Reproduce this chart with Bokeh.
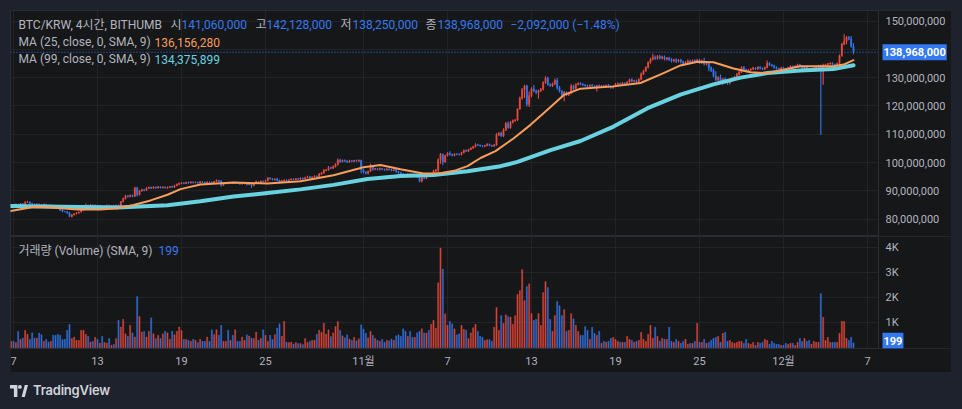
from bokeh.plotting import figure
from bokeh.models import Range1d, FixedTicker, Label, Div, ColumnDataSource, BoxAnnotation
from bokeh.layouts import column
from bokeh.embed import file_html
from bokeh.resources import INLINE

# ---------------- data (BTC/KRW, 4h candles, million KRW) ----------------
first_open = 84.8
close = [
    85.0,
    84.8, 85.2, 85.0, 85.4, 85.1, 85.9,
    86.0, 85.5, 85.3, 85.0, 85.3, 85.1,
    84.9, 85.2, 85.0, 84.8, 84.9, 84.6,
    84.3, 83.8, 83.2, 82.7, 82.6, 82.2,
    80.9, 81.5, 81.9, 82.2, 82.5, 83.2,
    84.4, 84.9, 84.6, 85.0, 84.7, 84.9,
    84.6, 84.8, 84.5, 84.7, 84.9, 84.6,
    84.8, 84.5, 84.9, 84.7, 86.2, 87.2,
    88.2, 88.0, 88.4, 88.1, 91.0, 88.6,
    90.0, 90.4, 90.2, 90.9, 91.2, 90.9,
    91.3, 91.0, 91.4, 91.1, 91.3, 91.0,
    91.2, 91.5, 91.3, 91.8, 92.3, 92.6,
    92.8, 92.6, 93.0, 92.8, 93.1, 92.9,
    93.0, 92.8, 93.2, 93.0, 92.8, 93.1,
    93.0, 92.8, 93.2, 93.7, 93.4, 92.0,
    92.5, 92.8, 92.6, 92.9, 92.7, 93.0,
    92.8, 92.4, 92.6, 92.9, 92.2, 92.5,
    91.9, 92.6, 93.2, 93.0, 93.4, 93.3,
    93.6, 94.5, 94.2, 93.9, 94.1, 93.7,
    93.1, 93.5, 93.8, 93.6, 93.9, 94.1,
    94.0, 94.3, 94.1, 94.5, 94.3, 94.7,
    95.0, 94.6, 94.9, 95.2, 95.0, 95.9,
    96.3, 97.2, 97.4, 98.2, 98.0, 98.5,
    99.3, 100.9, 100.3, 100.8, 100.5, 100.2,
    100.6, 100.4, 100.7, 100.5, 100.8, 97.4,
    96.6, 96.2, 96.9, 98.5, 97.6, 97.8,
    97.5, 97.9, 97.6, 97.4, 97.7, 97.5,
    97.2, 97.4, 96.8, 96.4, 96.0, 95.7,
    95.2, 95.9, 95.6, 95.3, 95.5, 94.9,
    93.4, 94.6, 94.4, 95.7, 95.5, 96.0,
    96.9, 97.3, 101.0, 102.9, 100.2, 102.4,
    103.3, 102.8, 102.5, 103.0, 102.9, 102.8,
    103.5, 104.3, 104.0, 104.6, 105.1, 105.6,
    106.3, 106.1, 105.9, 105.7, 106.0, 106.4,
    106.0, 105.8, 106.2, 109.8, 110.4, 109.4,
    111.5, 113.8, 112.3, 114.2, 114.8, 115.0,
    118.9, 122.8, 125.8, 127.1, 120.5, 123.6,
    126.0, 125.3, 124.7, 125.4, 125.9, 128.3,
    129.8, 127.6, 127.2, 127.8, 129.0, 126.5,
    125.2, 123.9, 124.8, 124.0, 124.6, 127.0,
    126.1, 127.6, 128.0, 127.7, 127.4, 127.2,
    126.9, 127.3, 127.0, 126.6, 127.2, 126.8,
    127.1, 126.8, 127.3, 126.9, 126.5, 127.0,
    127.6, 127.9, 127.5, 128.1, 127.8, 128.4,
    129.3, 128.7, 128.9, 128.5, 129.4, 131.3,
    132.4, 133.6, 135.4, 136.5, 137.2, 136.8,
    137.5, 136.9, 137.3, 136.5, 136.9, 136.4,
    135.9, 136.3, 135.8, 136.2, 135.6, 135.0,
    135.4, 135.9, 135.5, 136.0, 135.7, 136.2,
    135.3, 135.9, 134.8, 135.3, 133.4, 132.6,
    130.6, 129.3, 130.0, 128.8, 129.5, 128.4,
    128.1, 128.9, 129.7, 130.2, 131.1, 132.0,
    133.6, 132.8, 132.4, 132.7, 133.0, 133.4,
    133.1, 133.7, 133.3, 133.0, 133.6, 135.1,
    134.5, 134.2, 133.6, 133.2, 132.9, 133.5,
    133.2, 132.9, 133.4, 134.0, 133.7, 134.1,
    134.5, 134.1, 133.4, 133.8, 133.0, 132.7,
    133.0, 133.4, 133.7, 134.2, 133.6, 134.4,
    134.6, 134.9, 135.1, 134.6, 134.3, 135.0,
    137.8, 141.8, 142.8, 144.2, 143.6, 141.06,
    138.968,
]
upper_wick = [
    0.2,
    0.2, 0.3, 0.2, 0.3, 0.2, 0.4,
    0.5, 0.2, 0.3, 0.2, 0.3, 0.2,
    0.2, 0.3, 0.2, 0.2, 0.3, 0.2,
    0.2, 0.3, 0.2, 0.3, 0.2, 0.3,
    0.4, 0.3, 0.2, 0.3, 0.2, 0.3,
    0.3, 0.6, 0.2, 0.3, 0.2, 0.3,
    0.2, 0.3, 0.2, 0.2, 0.3, 0.2,
    0.2, 0.3, 0.2, 0.3, 0.2, 0.4,
    0.4, 0.3, 0.3, 0.2, 0.4, 0.4,
    0.3, 0.3, 0.2, 0.4, 0.3, 0.3,
    0.3, 0.2, 0.3, 0.2, 0.3, 0.2,
    0.3, 0.2, 0.3, 0.3, 0.3, 0.3,
    0.3, 0.3, 0.2, 0.3, 0.3, 0.2,
    0.3, 0.2, 0.3, 0.2, 0.2, 0.3,
    0.2, 0.3, 0.3, 0.3, 0.2, 0.4,
    0.3, 0.2, 0.3, 0.2, 0.3, 0.2,
    0.2, 0.3, 0.2, 0.3, 0.2, 0.3,
    0.3, 0.3, 0.4, 0.2, 0.3, 0.2,
    0.3, 0.4, 0.3, 0.2, 0.3, 0.5,
    0.2, 0.3, 0.2, 0.3, 0.2, 0.3,
    0.3, 0.2, 0.3, 0.3, 0.2, 0.3,
    0.3, 0.3, 0.2, 0.3, 0.2, 0.4,
    0.3, 0.5, 0.3, 0.6, 0.3, 0.5,
    0.4, 0.5, 0.4, 0.3, 0.3, 0.3,
    0.4, 0.3, 0.3, 0.3, 0.3, 0.2,
    0.4, 0.3, 0.3, 1.1, 0.5, 0.3,
    0.3, 0.3, 0.2, 0.3, 0.3, 0.2,
    0.3, 0.3, 0.4, 0.3, 0.3, 0.3,
    0.3, 0.3, 0.3, 0.2, 0.3, 0.3,
    0.3, 0.3, 0.3, 0.4, 0.3, 0.4,
    0.5, 0.4, 0.4, 0.5, 0.3, 0.3,
    0.3, 0.7, 0.4, 0.3, 0.3, 0.3,
    0.3, 0.3, 0.3, 0.3, 0.3, 0.3,
    0.5, 0.3, 0.3, 0.3, 0.3, 0.4,
    0.3, 0.3, 0.3, 0.5, 0.3, 0.5,
    0.6, 0.5, 0.7, 0.5, 0.4, 0.4,
    0.3, 0.5, 0.5, 0.4, 0.4, 1.5,
    0.6, 1.4, 0.5, 0.3, 0.4, 0.4,
    0.7, 0.5, 0.4, 0.5, 0.6, 0.9,
    0.5, 0.4, 0.5, 0.4, 0.4, 0.7,
    0.5, 0.4, 0.3, 0.4, 0.3, 0.3,
    0.4, 0.3, 0.4, 0.3, 0.3, 0.4,
    0.3, 0.4, 0.3, 0.4, 0.3, 0.3,
    0.5, 0.4, 0.3, 0.4, 0.3, 0.4,
    0.3, 0.5, 0.3, 0.4, 0.4, 0.5,
    0.4, 0.4, 0.4, 0.5, 1.2, 0.6,
    0.5, 0.6, 0.4, 0.5, 0.4, 0.5,
    0.5, 0.4, 0.5, 0.4, 0.5, 0.4,
    0.4, 0.5, 0.4, 0.4, 0.5, 0.5,
    0.5, 0.5, 1.1, 0.4, 0.5, 0.6,
    0.6, 1.6, 0.5, 1.1, 0.4, 0.6,
    0.5, 0.4, 0.4, 0.4, 0.5, 0.3,
    0.4, 0.5, 0.4, 0.3, 0.3, 0.4,
    0.3, 0.3, 0.4, 0.3, 0.3, 0.9,
    0.4, 0.3, 0.3, 0.3, 0.3, 0.3,
    0.3, 0.3, 0.4, 0.4, 0.3, 0.3,
    0.4, 0.3, 0.3, 0.3, 0.4, 0.3,
    0.3, 0.3, 0.3, 0.3, 0.4, 0.5,
    0.3, 0.3, 0.3, 0.3, 0.3, 0.3,
    0.4, 0.5, 2.5, 0.5, 0.5, 1.1,
    1.068,
]
lower_wick = [
    0.3,
    0.3, 0.2, 0.3, 0.2, 0.3, 0.2,
    0.2, 0.3, 0.2, 0.3, 0.2, 0.3,
    0.3, 0.2, 0.3, 0.2, 0.2, 0.3,
    0.3, 0.2, 0.3, 0.3, 0.2, 0.3,
    0.2, 0.3, 0.2, 0.3, 0.3, 0.2,
    0.3, 0.2, 0.3, 0.2, 0.3, 0.2,
    0.3, 0.2, 0.3, 0.3, 0.2, 0.3,
    0.2, 0.3, 0.2, 0.3, 0.3, 0.3,
    0.3, 0.4, 0.3, 0.4, 0.3, 0.6,
    0.3, 0.3, 0.4, 0.3, 0.3, 0.3,
    0.3, 0.3, 0.2, 0.3, 0.3, 0.2,
    0.3, 0.2, 0.3, 0.3, 0.2, 0.3,
    0.3, 0.3, 0.2, 0.3, 0.2, 0.3,
    0.2, 0.3, 0.3, 0.2, 0.3, 0.2,
    0.3, 0.2, 0.3, 0.2, 0.3, 0.6,
    0.3, 0.2, 0.3, 0.2, 0.3, 0.3,
    0.3, 0.3, 0.2, 0.3, 0.3, 0.2,
    0.9, 0.3, 0.3, 0.3, 0.2, 0.3,
    0.3, 0.3, 0.2, 0.3, 0.3, 0.3,
    0.5, 0.3, 0.2, 0.3, 0.3, 0.2,
    0.3, 0.2, 0.3, 0.3, 0.3, 0.2,
    0.3, 0.4, 0.3, 0.2, 0.3, 0.3,
    0.3, 0.3, 0.3, 0.3, 0.4, 0.3,
    0.3, 0.4, 0.5, 0.3, 0.4, 0.4,
    0.3, 0.3, 0.3, 0.3, 0.3, 1.3,
    0.5, 0.4, 0.4, 0.3, 0.5, 0.3,
    0.3, 0.3, 0.3, 0.3, 0.3, 0.3,
    0.3, 0.3, 0.4, 0.4, 0.4, 0.3,
    0.4, 0.3, 0.3, 0.3, 0.3, 0.4,
    0.4, 0.5, 0.3, 0.3, 0.3, 0.3,
    0.3, 0.3, 0.8, 1.4, 1.2, 0.3,
    0.3, 0.3, 0.3, 0.3, 0.3, 0.3,
    0.3, 0.3, 0.3, 0.3, 0.3, 0.3,
    0.3, 0.3, 0.3, 0.3, 0.3, 0.3,
    0.3, 0.3, 0.3, 0.3, 0.4, 0.4,
    0.4, 0.4, 0.4, 0.4, 0.4, 0.4,
    0.3, 0.3, 0.6, 3.0, 0.7, 0.9,
    0.5, 0.5, 0.6, 2.2, 0.5, 0.5,
    0.5, 0.5, 0.5, 0.5, 0.5, 0.8,
    0.5, 0.5, 2.3, 0.5, 0.5, 0.5,
    0.5, 0.4, 0.4, 0.4, 0.4, 0.4,
    0.4, 0.4, 0.4, 0.4, 1.5, 0.4,
    0.4, 0.4, 0.4, 0.4, 0.4, 0.4,
    0.4, 0.4, 0.4, 0.4, 0.4, 0.4,
    0.4, 0.4, 0.4, 0.4, 0.4, 0.4,
    0.4, 0.4, 0.4, 0.5, 0.5, 0.6,
    0.5, 0.5, 0.5, 0.5, 0.5, 0.5,
    0.6, 0.5, 0.6, 0.5, 0.6, 0.6,
    0.5, 0.5, 0.5, 0.5, 0.5, 0.5,
    0.5, 0.5, 0.5, 0.5, 1.2, 0.6,
    0.6, 0.6, 0.6, 0.7, 1.3, 0.6,
    0.6, 0.5, 0.4, 0.4, 0.4, 0.4,
    0.4, 0.4, 0.6, 0.4, 0.4, 0.4,
    0.4, 0.4, 0.4, 0.4, 0.3, 0.4,
    0.4, 0.4, 0.5, 0.4, 0.4, 0.4,
    0.4, 0.4, 0.4, 0.4, 0.4, 0.4,
    0.4, 0.4, 0.6, 0.4, 0.8, 0.4,
    0.4, 0.4, 0.4, 0.4, 23.8, 6.1,
    0.4, 0.4, 0.4, 0.4, 0.4, 0.4,
    0.4, 0.4, 0.4, 1.0, 0.4, 0.5,
    0.718,
]
volume = [
    260,
    260, 210, 660, 340, 390, 700,
    540, 340, 600, 390, 390, 590,
    520, 260, 340, 230, 260, 500,
    500, 540, 500, 330, 340, 700,
    940, 370, 430, 300, 300, 700,
    700, 540, 460, 230, 260, 420,
    340, 190, 460, 210, 190, 370,
    100, 140, 370, 1100, 830, 1140,
    560, 460, 900, 600, 430, 2050,
    1250, 630, 660, 430, 660, 1200,
    560, 370, 500, 370, 560, 660,
    600, 340, 660, 520, 660, 830,
    700, 340, 340, 300, 260, 340,
    300, 210, 340, 260, 260, 430,
    260, 720, 530, 720, 500, 900,
    260, 260, 700, 300, 500, 720,
    260, 260, 430, 300, 520, 470,
    390, 370, 630, 300, 370, 720,
    500, 260, 500, 330, 520, 790,
    960, 470, 1060, 230, 210, 230,
    150, 210, 170, 170, 130, 370,
    210, 260, 300, 300, 540, 700,
    620, 980, 550, 720, 450, 600,
    850, 1050, 700, 480, 400, 520,
    350, 300, 420, 280, 360, 920,
    750, 580, 400, 660, 500, 380,
    300, 260, 340, 220, 300, 280,
    350, 300, 480, 520, 460, 760,
    660, 460, 660, 420, 420, 600,
    660, 760, 600, 590, 700, 940,
    1100, 790, 2600, 3990, 3150, 1360,
    900, 1060, 960, 760, 520, 560,
    900, 740, 700, 370, 600, 800,
    940, 660, 460, 420, 290, 330,
    330, 260, 820, 1610, 700, 1290,
    980, 1320, 1250, 1230, 940, 1290,
    2130, 2290, 3130, 1890, 2450, 2560,
    1370, 1100, 1140, 1370, 900, 2210,
    2650, 2410, 1140, 660, 1290, 1850,
    1690, 1290, 1530, 660, 700, 1370,
    1160, 900, 660, 500, 500, 850,
    700, 340, 820, 580, 500, 660,
    180, 260, 230, 260, 380, 420,
    340, 260, 220, 220, 220, 460,
    340, 300, 220, 260, 300, 620,
    340, 260, 540, 900, 380, 820,
    460, 260, 380, 340, 340, 820,
    260, 220, 340, 260, 180, 260,
    340, 140, 180, 180, 260, 980,
    220, 220, 340, 180, 220, 300,
    380, 420, 460, 220, 580, 620,
    260, 300, 220, 180, 220, 260,
    260, 180, 340, 180, 140, 220,
    100, 220, 180, 220, 340, 300,
    140, 260, 180, 140, 140, 100,
    100, 180, 140, 180, 180, 100,
    220, 380, 260, 380, 260, 300,
    140, 260, 220, 220, 2170, 1220,
    300, 420, 220, 220, 220, 220,
    580, 1060, 1060, 380, 300, 420,
    199,
]
# moving averages (day since Oct 7, value in million KRW)
ma25_day = [-0.21, 1.43, 2.64, 4.57, 6.21, 7.43, 8.57, 9.79, 11.0, 11.93, 13.36, 15.71,
            18.14, 20.5, 22.86, 25.0, 26.21, 27.64, 29.29, 30.5, 31.57, 32.43, 33.36,
            34.43, 35.71, 36.93, 38.14, 39.29, 40.5, 42.86, 44.79, 46.43, 47.64, 48.86,
            50.0, 51.43, 52.64, 53.86, 55.0, 56.21, 58.57, 59.29, 60.0]
ma25 = [82.9, 84.3, 84.1, 83.4, 83.4, 83.8, 85.0, 86.6, 88.6, 90.6, 92.2, 92.9,
        92.6, 93.4, 95.5, 98.3, 99.1, 97.6, 96.1, 96.2, 97.2, 98.7, 101.6,
        104.0, 108.5, 113.3, 118.6, 123.8, 126.1, 126.9, 128.1, 131.6, 134.3, 135.6,
        135.4, 133.2, 131.9, 131.6, 132.8, 134.0, 134.0, 134.6, 136.15628]
ma99_day = [-0.21, 3.36, 7.43, 11.0, 13.36, 15.71, 18.14, 20.5, 22.86, 25.29, 27.64,
            30.0, 32.43, 34.79, 36.0, 38.36, 40.5, 42.86, 45.29, 47.64, 49.07, 50.0,
            51.93, 53.86, 56.21, 58.57, 60.0]
ma99 = [84.6, 84.4, 84.1, 84.9, 86.3, 88.0, 89.2, 90.5, 92.1, 94.2, 95.2,
        95.6, 96.9, 98.7, 100.2, 104.4, 107.6, 112.7, 119.2, 124.0, 126.2, 127.6,
        130.0, 131.6, 132.5, 133.0, 134.375899]

tick_days = [0, 6, 12, 18, 25, 31, 37, 43, 49, 55, 61]
tick_labels = ["7", "13", "19", "25", "11월", "7", "13", "19", "25", "12월", "7"]
price_ticks = [80, 90, 100, 110, 120, 130, 140, 150]
vol_ticks = [1000, 2000, 3000, 4000]
vol_tick_labels = ["1K", "2K", "3K", "4K"]
symbol_title = "BTC/KRW, 4시간, BITHUMB"
ma25_title = "MA (25, close, 0, SMA, 9)"
ma99_title = "MA (99, close, 0, SMA, 9)"
vol_title = "거래량 (Volume) (SMA, 9)"

assert len(close) == len(upper_wick) == len(lower_wick) == len(volume), (
    len(close), len(upper_wick), len(lower_wick), len(volume))

# ---------------- styling ----------------
NAVY = "#1e222d"
PANEL = "#161719"
GRID = "#222327"
SEP = "#2b2d34"
TEXT = "#b2b5be"
RED = "#ef4b3c"
BLUE = "#3479f1"
ORANGE = "#f89e5a"
CYAN = "#68d2e0"
FONT = "Roboto, Noto Sans CJK KR, sans-serif"

# page-pixel helpers (plot frames start at page x=10; pane tops at y=10 / 236)
def day_at(px):
    return (px - 13) / 14.0

def price_at(py):
    return 150 - (py - 20.5) / 2.83

def vol_at(py):
    return (347.3 - py) * 40.0

n = len(close)
t = [(i - 1) / 6.0 for i in range(n)]           # 4-hour candles
opens = [first_open] + close[:-1]
highs = [max(o, c) + u for o, c, u in zip(opens, close, upper_wick)]
lows = [min(o, c) - w for o, c, w in zip(opens, close, lower_wick)]
colors = [RED if c >= o else BLUE for o, c in zip(opens, close)]
src = ColumnDataSource(dict(t=t, o=opens, c=close, h=highs, l=lows, v=volume, col=colors))

def krw(v):
    return f"{round(v * 1_000_000):,}"

SCALE_X = day_at(878)          # where the price / volume scale column begins

def style_axis(ax):
    ax.major_tick_line_color = None
    ax.minor_tick_line_color = None
    ax.major_tick_out = 0
    ax.major_tick_in = 0
    ax.major_label_text_color = TEXT
    ax.major_label_text_font = FONT
    ax.major_label_text_font_size = "11px"

def scale_column(fig):
    # the scale column shares the pane; hide grid lines behind it
    fig.add_layout(BoxAnnotation(left=SCALE_X, fill_color=PANEL, fill_alpha=1.0,
                                 line_color=None, level="underlay"))

xr = Range1d(day_at(10), day_at(951))

# ---------------- price pane ----------------
p = figure(width=941, height=226, x_range=xr, y_range=Range1d(price_at(236), price_at(10)),
           output_backend="svg", toolbar_location=None, x_axis_location=None,
           y_axis_location="right", min_border_left=0, min_border_right=0,
           min_border_top=0, min_border_bottom=0, background_fill_color=PANEL,
           border_fill_color=PANEL, outline_line_color=SEP, margin=(10, 0, 0, 10))
ya = p.yaxis[0]
ya.fixed_location = SCALE_X
ya.ticker = FixedTicker(ticks=price_ticks)
ya.major_label_overrides = {tk: f"{tk * 1_000_000:,}" for tk in price_ticks}
style_axis(ya)
ya.axis_line_color = SEP
ya.major_label_standoff = 7
p.xgrid.ticker = FixedTicker(ticks=tick_days)
p.ygrid.ticker = FixedTicker(ticks=price_ticks)
p.xgrid.grid_line_color = GRID
p.ygrid.grid_line_color = GRID
scale_column(p)

p.segment(x0="t", y0="l", x1="t", y1="h", color="col", line_width=1.1, source=src)
p.vbar(x="t", bottom="o", top="c", width=0.085, fill_color="col", line_color="col",
       line_width=0.5, source=src)
p.line(ma99_day, ma99, color=CYAN, line_width=4, line_cap="round", line_join="round")
p.line(ma25_day, ma25, color=ORANGE, line_width=2, line_cap="round", line_join="round")

# last-price dotted line up to the scale, and its tag on the scale
p.line([xr.start, SCALE_X], [close[-1], close[-1]], color=BLUE, line_width=1,
       line_dash="1 2")
p.add_layout(Label(x=day_at(882), y=close[-1], text=krw(close[-1]), text_color="#ffffff",
                   text_font=FONT, text_font_size="11px", text_font_style="bold",
                   text_baseline="middle", text_align="left",
                   background_fill_color=BLUE, padding=(1, 4)))

o_l, h_l, l_l, c_l = opens[-1], highs[-1], lows[-1], close[-1]
chg = c_l - o_l
pct = chg / o_l * 100
sgn = "−" if chg < 0 else "+"
chg_text = f"{sgn}{krw(abs(chg))} ({sgn}{abs(pct):.2f}%)"

header = [
    (symbol_title, 18, 24, TEXT),
    ("시", 170, 24, TEXT), (krw(o_l), 181, 24, BLUE),
    ("고", 255, 24, TEXT), (krw(h_l), 266, 24, BLUE),
    ("저", 340, 24, TEXT), (krw(l_l), 352, 24, BLUE),
    ("종", 425, 24, TEXT), (krw(c_l), 437, 24, BLUE),
    (chg_text, 510, 24, BLUE),
    (ma25_title, 18, 41.5, TEXT), (krw(ma25[-1]), 154, 41.5, ORANGE),
    (ma99_title, 18, 58.5, TEXT), (krw(ma99[-1]), 154, 58.5, CYAN),
]
for txt, px, py, col in header:
    p.add_layout(Label(x=day_at(px), y=price_at(py), text=txt, text_color=col,
                       text_font=FONT, text_font_size="12px",
                       text_baseline="middle", text_align="left"))

# ---------------- volume pane ----------------
pv = figure(width=941, height=136, x_range=xr, y_range=Range1d(vol_at(348), vol_at(236)),
            output_backend="svg", toolbar_location=None, y_axis_location="right",
            min_border_left=0, min_border_right=0, min_border_top=0, min_border_bottom=24,
            background_fill_color=PANEL, border_fill_color=PANEL, outline_line_color=SEP,
            margin=(0, 0, 0, 10))
vy = pv.yaxis[0]
vy.fixed_location = SCALE_X
vy.ticker = FixedTicker(ticks=vol_ticks)
vy.major_label_overrides = dict(zip(vol_ticks, vol_tick_labels))
style_axis(vy)
vy.axis_line_color = SEP
vy.major_label_standoff = 7
vx = pv.xaxis[0]
vx.ticker = FixedTicker(ticks=tick_days)
vx.major_label_overrides = dict(zip(tick_days, tick_labels))
style_axis(vx)
vx.axis_line_color = None
vx.major_label_standoff = 6
pv.xgrid.ticker = FixedTicker(ticks=tick_days)
pv.ygrid.ticker = FixedTicker(ticks=vol_ticks)
pv.xgrid.grid_line_color = GRID
pv.ygrid.grid_line_color = GRID
scale_column(pv)

pv.vbar(x="t", top="v", bottom=0, width=0.085, fill_color="col", line_color="col",
        line_width=0.4, fill_alpha=0.85, line_alpha=0.85, source=src)
pv.add_layout(Label(x=day_at(18), y=vol_at(250), text=vol_title, text_color=TEXT,
                    text_font=FONT, text_font_size="12px", text_baseline="middle"))
pv.add_layout(Label(x=day_at(158), y=vol_at(250), text=f"{volume[-1]:,}", text_color=BLUE,
                    text_font=FONT, text_font_size="12px", text_baseline="middle"))
pv.add_layout(Label(x=day_at(882), y=volume[-1], y_offset=2, text=f"{volume[-1]:,}",
                    text_color="#ffffff", text_font=FONT, text_font_size="11px",
                    text_font_style="bold", text_baseline="middle", text_align="left",
                    background_fill_color=BLUE, padding=(1, 4)))

# ---------------- footer ----------------
logo = ('<div style="display:flex;align-items:center;height:37px;gap:5px;">'
        '<svg width="18" height="12" viewBox="0 0 18 12">'
        '<path d="M0 0H7.4V12H3.9V3.4H0Z" fill="#d1d4dc"/>'
        '<circle cx="9.9" cy="1.9" r="1.9" fill="#d1d4dc"/>'
        '<path d="M11.6 12L14.8 0H18L14.8 12Z" fill="#d1d4dc"/></svg>'
        '<span style="font-family:Inter, Roboto, sans-serif;font-size:13px;font-weight:600;'
        'color:#d1d4dc;letter-spacing:-0.2px;">TradingView</span></div>')
footer = Div(text=logo, width=200, height=37, margin=(0, 0, 0, 10))

root = column(p, pv, footer, width=962, height=409, spacing=0,
              styles={"background-color": NAVY})

open("out.html", "w").write(file_html(root, INLINE))
